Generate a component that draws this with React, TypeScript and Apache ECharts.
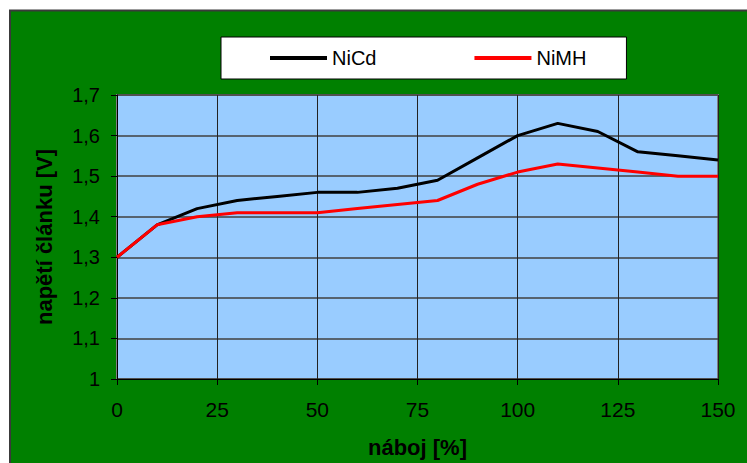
import React, { useEffect, useRef } from "react";
import * as echarts from "echarts";

const charge = [0, 10, 20, 30, 40, 50, 60, 70, 80, 90, 100, 110, 120, 130, 140, 150];
const nicd = [1.3, 1.38, 1.42, 1.44, 1.45, 1.46, 1.46, 1.47, 1.49, 1.545, 1.6, 1.63, 1.61, 1.56, 1.55, 1.54];
const nimh = [1.3, 1.38, 1.4, 1.41, 1.41, 1.41, 1.42, 1.43, 1.44, 1.48, 1.51, 1.53, 1.52, 1.51, 1.5, 1.5];
const seriesNames = ["NiCd", "NiMH"];
const xTitle = "náboj [%]";
const yTitle = "napětí článku [V]";

const FONT = "'Liberation Sans', Arial, sans-serif";

export default function App() {
  const ref = useRef<HTMLDivElement>(null);
  useEffect(() => {
    if (!ref.current) return;
    const chart = echarts.init(ref.current, undefined, { renderer: "svg" });
    chart.setOption({
      animation: false,
      backgroundColor: "#ffffff",
      graphic: [
        {
          type: "rect",
          z: -100,
          shape: { x: 10, y: 10.5, width: 760, height: 470 },
          style: { fill: "#008000", stroke: "#3a3a3a", lineWidth: 2 },
        },
      ],
      legend: {
        left: 221,
        top: 37,
        data: seriesNames,
        icon: "rect",
        itemWidth: 57,
        itemHeight: 4,
        itemGap: 98,
        padding: [10, 40, 10, 49],
        backgroundColor: "#ffffff",
        borderColor: "#000000",
        borderWidth: 1,
        textStyle: { fontSize: 20, fontFamily: FONT, color: "#000", lineHeight: 22 },
      },
      grid: {
        left: 117,
        top: 95,
        right: 29,
        bottom: 84,
        show: true,
        backgroundColor: "#99CCFF",
        borderColor: "#808080",
        borderWidth: 2,
      },
      xAxis: {
        type: "value",
        min: 0,
        max: 150,
        interval: 25,
        name: xTitle,
        nameLocation: "middle",
        nameGap: 57,
        nameTextStyle: { fontSize: 22, fontWeight: "bold", fontFamily: FONT, color: "#000" },
        axisLine: { show: true, lineStyle: { color: "#000", width: 1 } },
        axisTick: { show: true, length: 6, lineStyle: { color: "#000" } },
        axisLabel: { margin: 20, fontSize: 21, fontFamily: FONT, color: "#000" },
        splitLine: { show: true, lineStyle: { color: "#222", width: 1 } },
      },
      yAxis: {
        type: "value",
        min: 1,
        max: 1.7,
        interval: 0.1,
        name: yTitle,
        nameLocation: "middle",
        nameGap: 62,
        nameTextStyle: { fontSize: 22, fontWeight: "bold", fontFamily: FONT, color: "#000" },
        axisLine: { show: true, lineStyle: { color: "#000", width: 1 } },
        axisTick: { show: true, length: 6, lineStyle: { color: "#000" } },
        axisLabel: {
          margin: 17,
          fontSize: 20,
          fontFamily: FONT,
          color: "#000",
          formatter: (v: number) => (Math.abs(v - 1) < 1e-9 ? "1" : v.toFixed(1).replace(".", ",")),
        },
        splitLine: { show: true, lineStyle: { color: "#404040", width: 1.5 } },
      },
      series: [
        {
          name: seriesNames[0],
          type: "line",
          data: charge.map((c, i) => [c, nicd[i]]),
          showSymbol: false,
          symbol: "none",
          lineStyle: { color: "#000000", width: 3 },
          itemStyle: { color: "#000000" },
        },
        {
          name: seriesNames[1],
          type: "line",
          data: charge.map((c, i) => [c, nimh[i]]),
          showSymbol: false,
          symbol: "none",
          lineStyle: { color: "#FF0000", width: 3 },
          itemStyle: { color: "#FF0000" },
        },
      ],
    });
    return () => chart.dispose();
  }, []);
  return (
    <div
      ref={ref}
      style={{ position: "fixed", left: 0, top: 0, width: 747, height: 463 }}
    />
  );
}
